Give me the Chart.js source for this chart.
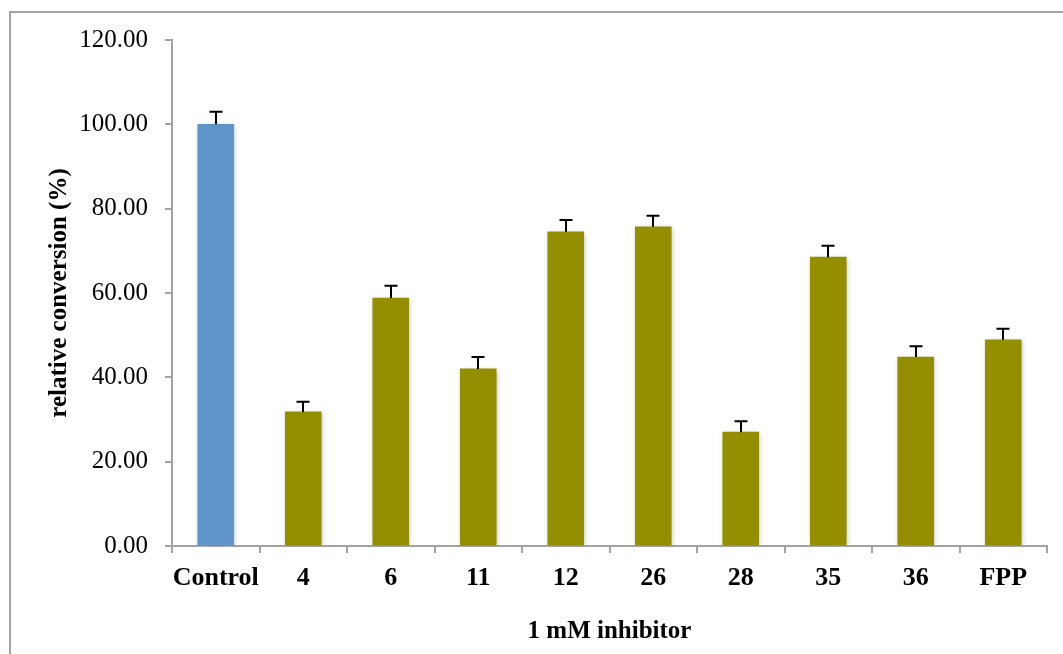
<!DOCTYPE html>
<html>
<head>
<meta charset="utf-8">
<script src="https://cdn.jsdelivr.net/npm/chart.js@4/dist/chart.umd.min.js"></script>
<style>
  html, body { margin: 0; padding: 0; background: #ffffff; }
  #wrap { width: 1063px; height: 654px; position: relative; }
</style>
</head>
<body>
<div id="wrap"><canvas id="chart" width="1063" height="654"></canvas></div>
<script>
// Relative conversion for each inhibitor (1 mM), with standard error
const categories = ['Control', '4', '6', '11', '12', '26', '28', '35', '36', 'FPP'];
const conversion = [100.0, 31.8, 58.8, 42.0, 74.5, 75.7, 27.0, 68.5, 44.8, 48.9];
const errorPlus  = [3.0, 2.4, 2.9, 2.8, 2.8, 2.6, 2.6, 2.7, 2.6, 2.6];
const barColors  = ['#5f95c8', '#948f00', '#948f00', '#948f00', '#948f00',
                    '#948f00', '#948f00', '#948f00', '#948f00', '#948f00'];
const yTicks = [0, 20, 40, 60, 80, 100, 120];

const AXIS_GRAY = '#a3a3a3';
const SERIF = '"Liberation Serif", "Times New Roman", serif';

// Outer frame around the whole figure
const framePlugin = {
  id: 'frame',
  beforeDraw(chart) {
    const ctx = chart.ctx;
    ctx.save();
    ctx.strokeStyle = AXIS_GRAY;
    ctx.lineWidth = 2;
    ctx.strokeRect(10, 12, 1200, 1000);
    ctx.restore();
  }
};

// Soft drop shadow behind the bars
const shadowPlugin = {
  id: 'barShadow',
  beforeDatasetDraw(chart) {
    const ctx = chart.ctx;
    ctx.save();
    ctx.shadowColor = 'rgba(0,0,0,0.22)';
    ctx.shadowBlur = 5;
    ctx.shadowOffsetX = 1;
    ctx.shadowOffsetY = 1;
  },
  afterDatasetDraw(chart) {
    chart.ctx.restore();
  }
};

// Upper error bars (stem + cap) drawn from the error values
const errorBarPlugin = {
  id: 'errorBars',
  afterDatasetsDraw(chart) {
    const ctx = chart.ctx;
    const yScale = chart.scales.y;
    const meta = chart.getDatasetMeta(0);
    ctx.save();
    ctx.strokeStyle = '#000000';
    ctx.lineWidth = 2;
    meta.data.forEach((bar, i) => {
      const x = Math.round(bar.x);
      const yBase = yScale.getPixelForValue(conversion[i]);
      const yTop = yScale.getPixelForValue(conversion[i] + errorPlus[i]);
      ctx.beginPath();
      ctx.moveTo(x, yBase);
      ctx.lineTo(x, yTop);
      ctx.moveTo(x - 6.5, yTop);
      ctx.lineTo(x + 6.5, yTop);
      ctx.stroke();
    });
    ctx.restore();
  }
};

new Chart(document.getElementById('chart'), {
  type: 'bar',
  data: {
    labels: categories,
    datasets: [{
      data: conversion,
      backgroundColor: barColors,
      borderWidth: 0,
      barThickness: 36
    }]
  },
  options: {
    responsive: false,
    animation: false,
    devicePixelRatio: 1,
    layout: { padding: { top: 40, right: 16, bottom: 0, left: 0 } },
    plugins: {
      legend: { display: false },
      tooltip: { enabled: false }
    },
    scales: {
      x: {
        type: 'category',
        grid: {
          display: true,
          offset: true,
          drawOnChartArea: false,
          drawTicks: true,
          tickLength: 7,
          color: AXIS_GRAY,
          lineWidth: 2
        },
        border: { display: true, color: AXIS_GRAY, width: 2 },
        ticks: {
          color: '#000000',
          padding: 10,
          maxRotation: 0,
          autoSkip: false,
          font: { family: SERIF, size: 26, weight: 'bold' }
        },
        title: {
          display: true,
          text: '1 mM inhibitor',
          color: '#000000',
          padding: { top: 0, bottom: 7 },
          font: { family: SERIF, size: 25, weight: 'bold' }
        },
        afterFit(scale) { scale.height = 108; }
      },
      y: {
        min: 0,
        max: 120,
        afterBuildTicks(scale) { scale.ticks = yTicks.map(v => ({ value: v })); },
        grid: {
          display: true,
          drawOnChartArea: false,
          drawTicks: true,
          tickLength: 7,
          color: AXIS_GRAY,
          lineWidth: 2
        },
        border: { display: true, color: AXIS_GRAY, width: 2 },
        ticks: {
          color: '#000000',
          padding: 17,
          font: { family: SERIF, size: 25 },
          callback: (v) => Number(v).toFixed(2)
        },
        title: {
          display: true,
          text: 'relative conversion (%)',
          color: '#000000',
          padding: { top: 45, bottom: 0 },
          font: { family: SERIF, size: 25, weight: 'bold' }
        },
        afterFit(scale) { scale.width = 172; }
      }
    }
  },
  plugins: [framePlugin, shadowPlugin, errorBarPlugin]
});
</script>
</body>
</html>
